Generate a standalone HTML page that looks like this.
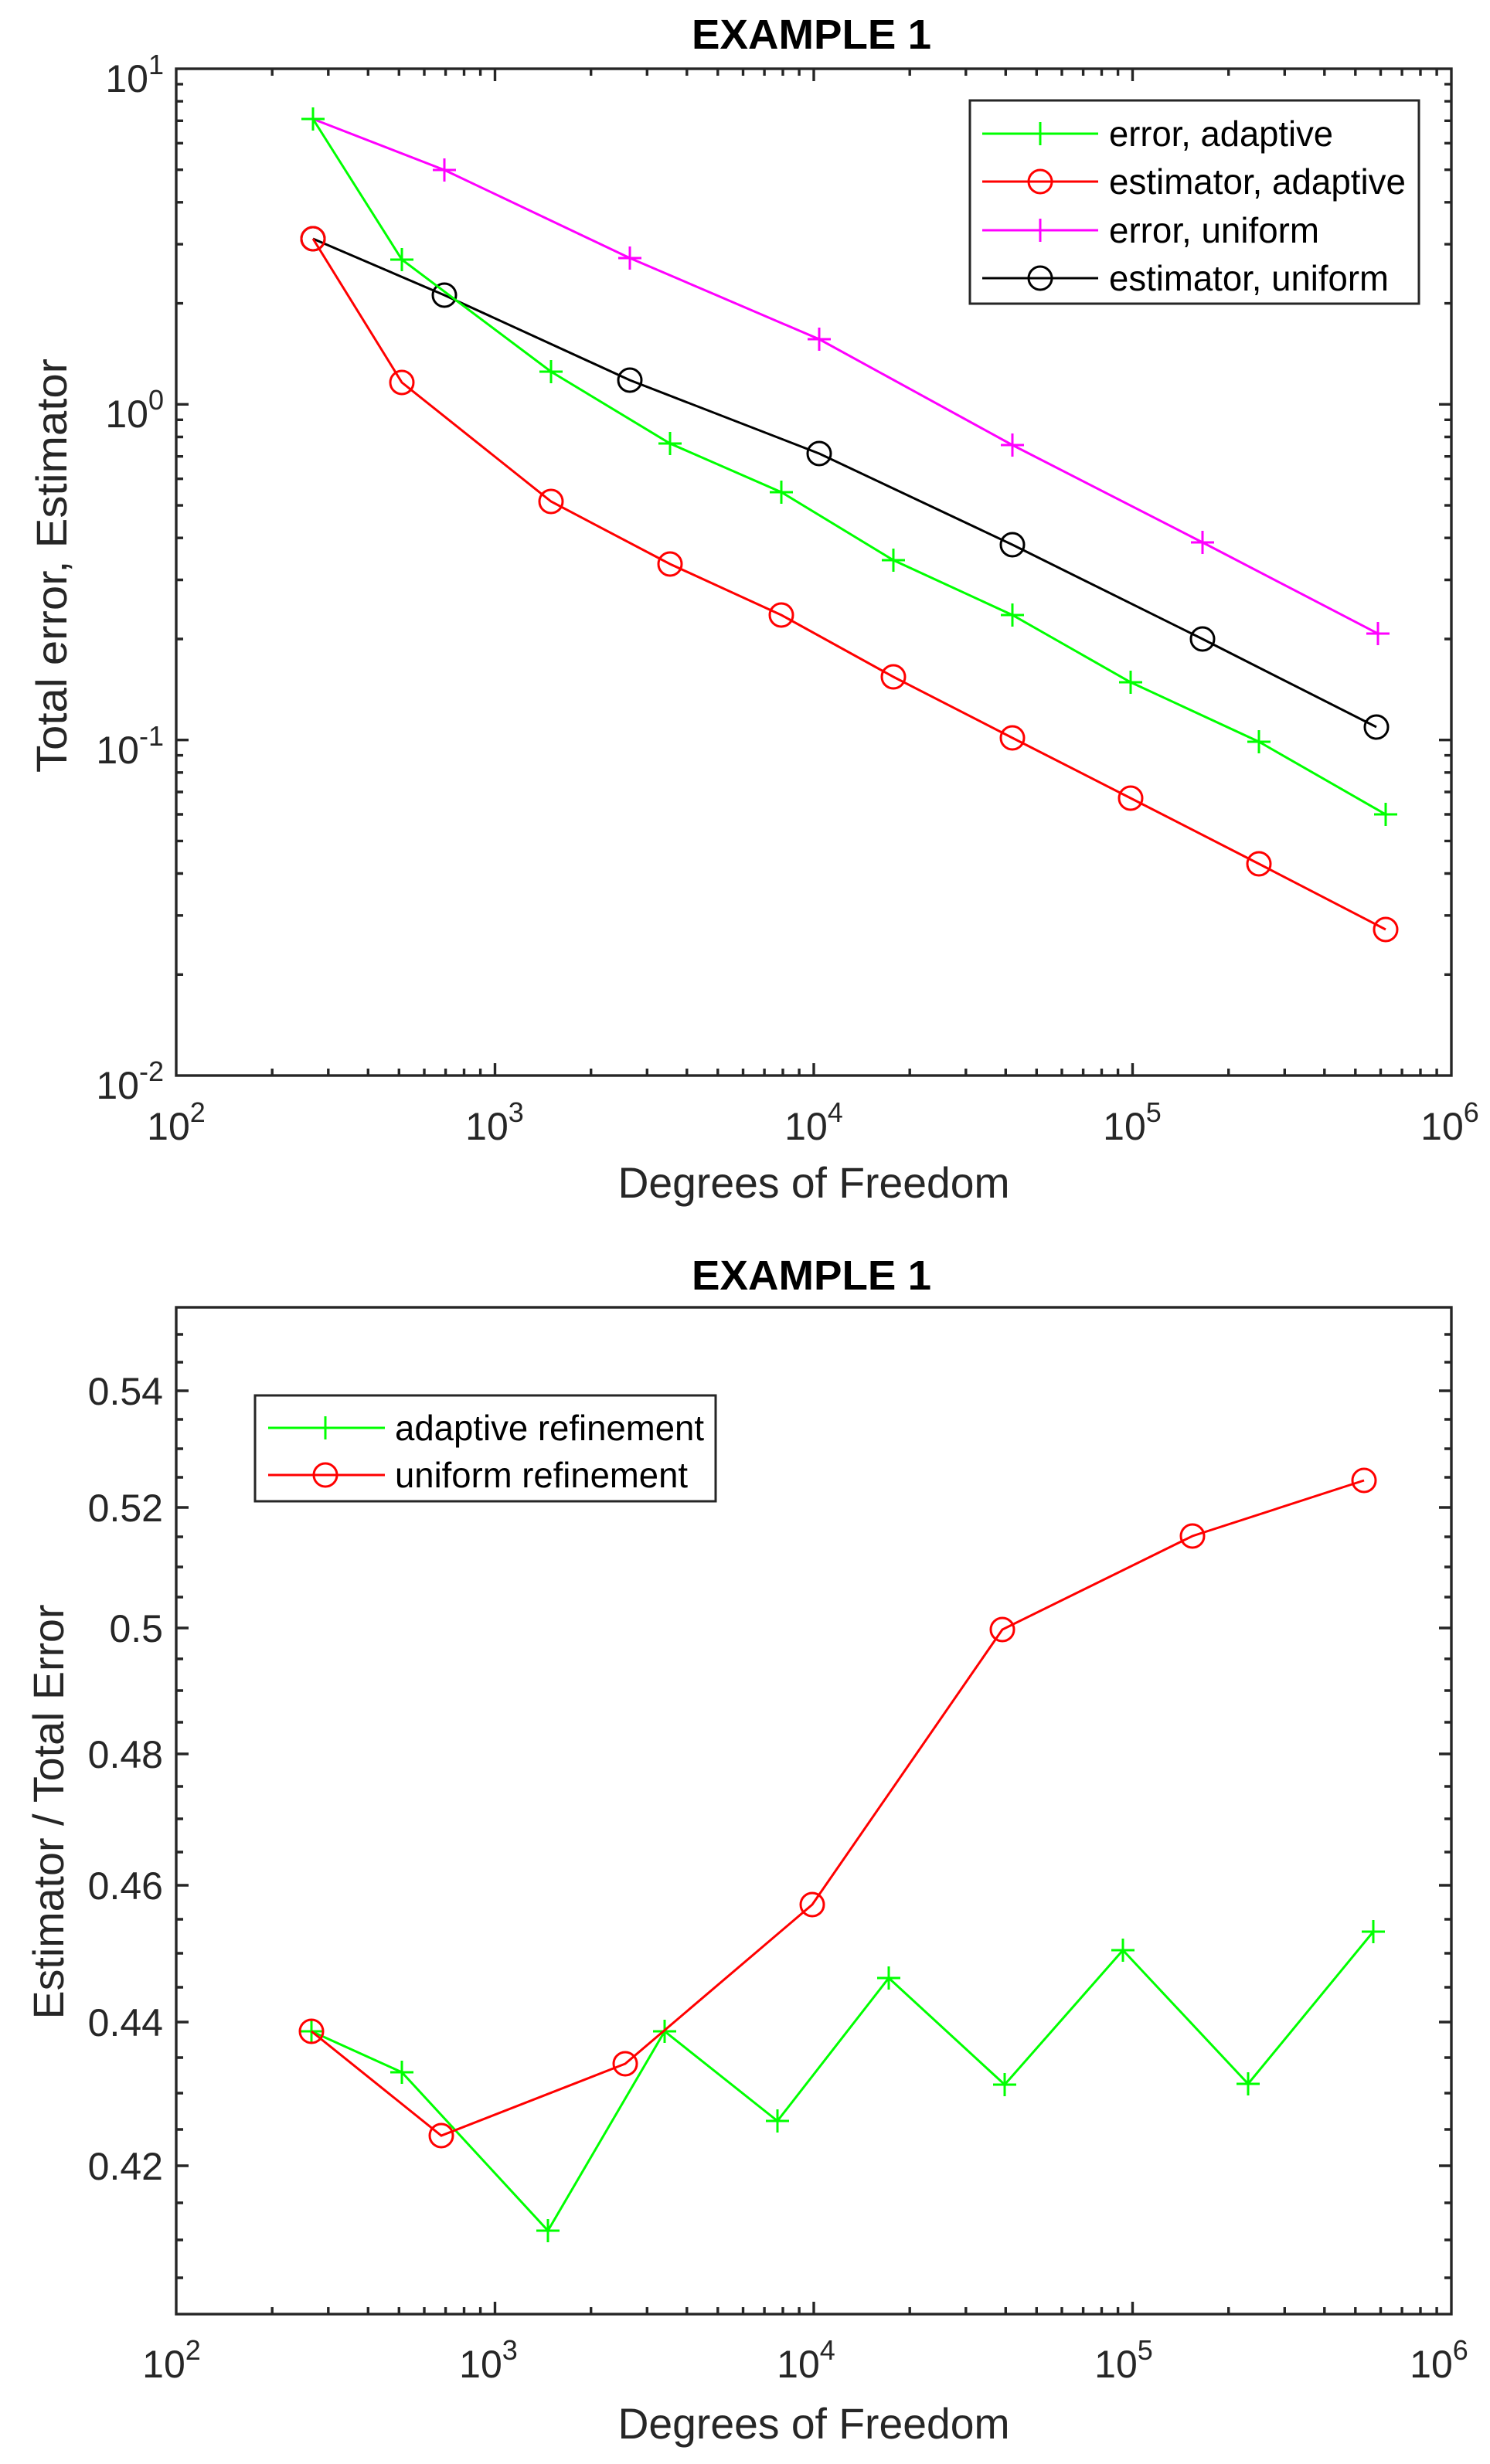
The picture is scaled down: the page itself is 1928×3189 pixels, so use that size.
<!DOCTYPE html>
<html><head><meta charset="utf-8"><style>
html,body{margin:0;padding:0;background:#fff;}
svg{display:block;}
text{font-family:"Liberation Sans",Arial,sans-serif;fill:#262626;}
</style></head><body>
<svg width="1928" height="3189" viewBox="0 0 1928 3189" xmlns="http://www.w3.org/2000/svg">
<defs>
<path id="xminor" d="M352.2 1392v-9M424.8 1392v-9M476.3 1392v-9M516.3 1392v-9M549 1392v-9M576.6 1392v-9M600.5 1392v-9M621.6 1392v-9M764.7 1392v-9M837.3 1392v-9M888.8 1392v-9M928.8 1392v-9M961.5 1392v-9M989.1 1392v-9M1013 1392v-9M1034.1 1392v-9M1177.2 1392v-9M1249.8 1392v-9M1301.3 1392v-9M1341.3 1392v-9M1374 1392v-9M1401.6 1392v-9M1425.5 1392v-9M1446.6 1392v-9M1589.7 1392v-9M1662.3 1392v-9M1713.8 1392v-9M1753.8 1392v-9M1786.5 1392v-9M1814.1 1392v-9M1838 1392v-9M1859.1 1392v-9M640.5 1392v-16M1053 1392v-16M1465.5 1392v-16" stroke="#262626" stroke-width="3.4" fill="none"/>
<path id="yminor1" d="M228 1261.3h9M228 1184.8h9M228 1130.5h9M228 1088.4h9M228 1054h9M228 1025h9M228 999.8h9M228 977.6h9M228 827h9M228 750.5h9M228 696.2h9M228 654.1h9M228 619.7h9M228 590.7h9M228 565.5h9M228 543.3h9M228 392.6h9M228 316.1h9M228 261.8h9M228 219.7h9M228 185.3h9M228 156.3h9M228 131.1h9M228 108.9h9M228 957.7h16M228 523.3h16" stroke="#262626" stroke-width="3.4" fill="none"/>
<path id="yminor2" d="M228 2948h9M228 2899h9M228 2851h9M228 2756h9M228 2709h9M228 2663h9M228 2572h9M228 2528h9M228 2484h9M228 2397h9M228 2354h9M228 2312h9M228 2229h9M228 2188h9M228 2147h9M228 2067h9M228 2028h9M228 1989h9M228 1912h9M228 1875h9M228 1837h9M228 1763h9M228 1727h9M228 2803h16M228 2617h16M228 2440h16M228 2270h16M228 2107h16M228 1951h16M228 1800h16" stroke="#262626" stroke-width="3.4" fill="none"/>
</defs>

<!-- ===== TOP PLOT ===== -->
<text x="1050" y="63" font-size="54" font-weight="bold" text-anchor="middle" textLength="310" lengthAdjust="spacingAndGlyphs" style="fill:#000">EXAMPLE 1</text>
<rect x="228" y="89" width="1650" height="1303" fill="#fff" stroke="#262626" stroke-width="3.4"/>
<use href="#xminor"/>
<use href="#xminor" transform="matrix(1,0,0,-1,0,1481)"/>
<use href="#yminor1"/>
<use href="#yminor1" transform="matrix(-1,0,0,1,2106,0)"/>

<g font-size="50">
<text x="228" y="1475" text-anchor="middle">10<tspan font-size="36" dy="-23">2</tspan></text>
<text x="640" y="1475" text-anchor="middle">10<tspan font-size="36" dy="-23">3</tspan></text>
<text x="1053" y="1475" text-anchor="middle">10<tspan font-size="36" dy="-23">4</tspan></text>
<text x="1465" y="1475" text-anchor="middle">10<tspan font-size="36" dy="-23">5</tspan></text>
<text x="1876" y="1475" text-anchor="middle">10<tspan font-size="36" dy="-23">6</tspan></text>
<text x="212" y="119" text-anchor="end">10<tspan font-size="36" dy="-23">1</tspan></text>
<text x="212" y="553" text-anchor="end">10<tspan font-size="36" dy="-23">0</tspan></text>
<text x="212" y="988" text-anchor="end">10<tspan font-size="36" dy="-23">-1</tspan></text>
<text x="212" y="1422" text-anchor="end">10<tspan font-size="36" dy="-23">-2</tspan></text>
</g>
<text x="1053" y="1550" font-size="56" text-anchor="middle" textLength="507" lengthAdjust="spacingAndGlyphs">Degrees of Freedom</text>
<text transform="translate(86,732) rotate(-90)" font-size="56" text-anchor="middle" textLength="536" lengthAdjust="spacingAndGlyphs">Total error,  Estimator</text>

<g fill="none" stroke-width="3">
<polyline stroke="#ff00ff" points="405,154 575,220 815,334 1060,439 1310,576 1556,702 1783,820"/>
<g stroke="#ff00ff"><path d="M390 154h30M405 139v30M560 220h30M575 205v30M800 334h30M815 319v30M1045 439h30M1060 424v30M1295 576h30M1310 561v30M1541 702h30M1556 687v30M1768 820h30M1783 805v30"/></g>
<polyline stroke="#000" points="405,309 575,382 815,492 1060,587 1310,705 1556,827 1781,941"/>
<g stroke="#000"><circle cx="405" cy="309" r="15"/><circle cx="575" cy="382" r="15"/><circle cx="815" cy="492" r="15"/><circle cx="1060" cy="587" r="15"/><circle cx="1310" cy="705" r="15"/><circle cx="1556" cy="827" r="15"/><circle cx="1781" cy="941" r="15"/></g>
<polyline stroke="#00ff00" points="405,154 520,336 713,481 867,574 1011,637 1156,725 1310,796 1463,883 1629,960 1793,1054"/>
<g stroke="#00ff00"><path d="M390 154h30M405 139v30M505 336h30M520 321v30M698 481h30M713 466v30M852 574h30M867 559v30M996 637h30M1011 622v30M1141 725h30M1156 710v30M1295 796h30M1310 781v30M1448 883h30M1463 868v30M1614 960h30M1629 945v30M1778 1054h30M1793 1039v30"/></g>
<polyline stroke="#ff0000" points="405,309 520,495 713,649 867,730 1011,796 1156,876 1310,955 1463,1033 1629,1118 1793,1203"/>
<g stroke="#ff0000"><circle cx="405" cy="309" r="15"/><circle cx="520" cy="495" r="15"/><circle cx="713" cy="649" r="15"/><circle cx="867" cy="730" r="15"/><circle cx="1011" cy="796" r="15"/><circle cx="1156" cy="876" r="15"/><circle cx="1310" cy="955" r="15"/><circle cx="1463" cy="1033" r="15"/><circle cx="1629" cy="1118" r="15"/><circle cx="1793" cy="1203" r="15"/></g>
</g>

<rect x="1255" y="130" width="581" height="263" fill="#fff" stroke="#262626" stroke-width="3"/>
<g fill="none" stroke-width="3">
<path d="M1271 173h150M1331 173h30M1346 158v30" stroke="#00ff00"/>
<path d="M1271 235h150" stroke="#ff0000"/><circle cx="1346" cy="235" r="15" stroke="#ff0000"/>
<path d="M1271 298h150M1331 298h30M1346 283v30" stroke="#ff00ff"/>
<path d="M1271 360h150" stroke="#000"/><circle cx="1346" cy="360" r="15" stroke="#000"/>
</g>
<g font-size="46">
<text x="1435" y="189" textLength="290" lengthAdjust="spacingAndGlyphs" style="fill:#000">error, adaptive</text>
<text x="1435" y="251" textLength="384" lengthAdjust="spacingAndGlyphs" style="fill:#000">estimator, adaptive</text>
<text x="1435" y="314" textLength="272" lengthAdjust="spacingAndGlyphs" style="fill:#000">error, uniform</text>
<text x="1435" y="376" textLength="362" lengthAdjust="spacingAndGlyphs" style="fill:#000">estimator, uniform</text>
</g>

<!-- ===== BOTTOM PLOT ===== -->
<text x="1050" y="1669" font-size="54" font-weight="bold" text-anchor="middle" textLength="310" lengthAdjust="spacingAndGlyphs" style="fill:#000">EXAMPLE 1</text>
<rect x="228" y="1692" width="1650" height="1303" fill="#fff" stroke="#262626" stroke-width="3.4"/>
<use href="#xminor" transform="translate(0,1603)"/>
<use href="#xminor" transform="matrix(1,0,0,-1,0,4687)"/>
<use href="#yminor2"/>
<use href="#yminor2" transform="matrix(-1,0,0,1,2106,0)"/>

<g font-size="50">
<text x="222" y="3077" text-anchor="middle">10<tspan font-size="36" dy="-23">2</tspan></text>
<text x="632" y="3077" text-anchor="middle">10<tspan font-size="36" dy="-23">3</tspan></text>
<text x="1043" y="3077" text-anchor="middle">10<tspan font-size="36" dy="-23">4</tspan></text>
<text x="1454" y="3077" text-anchor="middle">10<tspan font-size="36" dy="-23">5</tspan></text>
<text x="1862" y="3077" text-anchor="middle">10<tspan font-size="36" dy="-23">6</tspan></text>
<text x="211" y="1818" text-anchor="end">0.54</text>
<text x="211" y="1969" text-anchor="end">0.52</text>
<text x="211" y="2125" text-anchor="end">0.5</text>
<text x="211" y="2288" text-anchor="end">0.48</text>
<text x="211" y="2458" text-anchor="end">0.46</text>
<text x="211" y="2635" text-anchor="end">0.44</text>
<text x="211" y="2821" text-anchor="end">0.42</text>
</g>
<text x="1053" y="3156" font-size="56" text-anchor="middle" textLength="507" lengthAdjust="spacingAndGlyphs">Degrees of Freedom</text>
<text transform="translate(82,2345) rotate(-90)" font-size="56" text-anchor="middle" textLength="537" lengthAdjust="spacingAndGlyphs">Estimator / Total Error</text>

<g fill="none" stroke-width="3">
<polyline stroke="#00ff00" points="403,2629 520,2682 709,2887 860,2629 1006,2745 1150,2560 1300,2698 1453,2524 1615,2697 1777,2500"/>
<g stroke="#00ff00"><path d="M388 2629h30M403 2614v30M505 2682h30M520 2667v30M694 2887h30M709 2872v30M845 2629h30M860 2614v30M991 2745h30M1006 2730v30M1135 2560h30M1150 2545v30M1285 2698h30M1300 2683v30M1438 2524h30M1453 2509v30M1600 2697h30M1615 2682v30M1762 2500h30M1777 2485v30"/></g>
<polyline stroke="#ff0000" points="403,2629 571,2764 809,2671 1051,2465 1297,2109 1543,1988 1765,1916"/>
<g stroke="#ff0000"><circle cx="403" cy="2629" r="15"/><circle cx="571" cy="2764" r="15"/><circle cx="809" cy="2671" r="15"/><circle cx="1051" cy="2465" r="15"/><circle cx="1297" cy="2109" r="15"/><circle cx="1543" cy="1988" r="15"/><circle cx="1765" cy="1916" r="15"/></g>
</g>

<rect x="330" y="1806" width="596" height="137" fill="#fff" stroke="#262626" stroke-width="3"/>
<g fill="none" stroke-width="3">
<path d="M347 1848h151M406 1848h30M421 1833v30" stroke="#00ff00"/>
<path d="M347 1909h151" stroke="#ff0000"/><circle cx="421" cy="1909" r="15" stroke="#ff0000"/>
</g>
<text x="511" y="1864" font-size="46" textLength="400" lengthAdjust="spacingAndGlyphs" style="fill:#000">adaptive refinement</text>
<text x="511" y="1925" font-size="46" textLength="379" lengthAdjust="spacingAndGlyphs" style="fill:#000">uniform refinement</text>
</svg>
</body></html>
